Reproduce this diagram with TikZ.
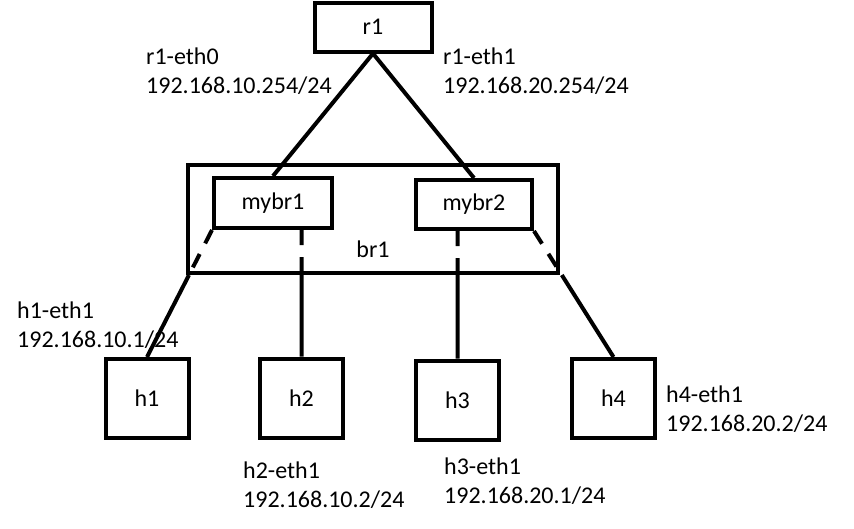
\documentclass[tikz,border=0pt]{standalone}
\usepackage{fontspec}
\setmainfont{Carlito}
\usetikzlibrary{positioning}

\begin{document}
\begin{tikzpicture}[
    x=1pt, y=-1pt,
    every node/.style={font=\fontsize{24}{29}\selectfont},
    device/.style={rectangle, draw, line width=4pt, inner sep=0pt},
    iface/.style={align=left, anchor=west, inner sep=0pt},
    link/.style={line width=4pt},
    inlink/.style={line width=4pt, dash pattern=on 15pt off 12pt}
]
\useasboundingbox (0,0) rectangle (854,528);

% Router
\node[device, minimum width=117pt, minimum height=49pt] (r1) at (373,27) {r1};

% Bridge with its two halves
\node[device, minimum width=370pt, minimum height=108pt] (br1) at (373,219) {};
\node (br1label) at (373,249) {br1};
\node[device, minimum width=118pt, minimum height=50pt] (mybr1) at (273,203) {mybr1};
\node[device, minimum width=116pt, minimum height=49pt] (mybr2) at (474,204.5) {mybr2};

% Hosts
\foreach \host/\x/\y in {h1/147/398.5, h2/301.5/398, h3/457.5/400, h4/613.5/398.5} {
    \node[device, minimum width=83pt, minimum height=79pt] (\host) at (\x,\y) {\host};
}

% Router links
\draw[link] (r1.south) -- (mybr1.north);
\draw[link] (r1.south) -- (mybr2.north);

% Host links: dashed inside br1, solid below it
\coordinate (s1) at (mybr1.south west);
\coordinate (s2) at (h2.north |- mybr1.south);
\coordinate (s3) at (h3.north |- mybr2.south);
\coordinate (s4) at (mybr2.south east);
\foreach \i in {1,...,4} {
    \coordinate (x\i) at (intersection of s\i--h\i.north and br1.south west--br1.south east);
    \draw[inlink] (s\i) -- (x\i);
    \draw[link] (x\i) -- (h\i.north);
}

% Interface labels
\node[iface] (r1eth0) at (146,71) {r1-eth0\\192.168.10.254/24};
\node[iface] (r1eth1) at (443,71) {r1-eth1\\192.168.20.254/24};
\node[iface] (h1eth1) at (17,325.5) {h1-eth1\\192.168.10.1/24};
\node[iface] (h2eth1) at (243,485) {h2-eth1\\192.168.10.2/24};
\node[iface] (h3eth1) at (444,481.5) {h3-eth1\\192.168.20.1/24};
\node[iface] (h4eth1) at (666,409) {h4-eth1\\192.168.20.2/24};

\end{tikzpicture}
\end{document}
